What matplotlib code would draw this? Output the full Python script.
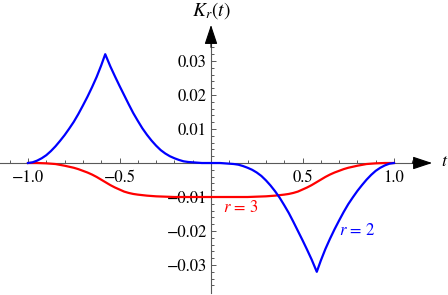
import numpy as np
import matplotlib
matplotlib.use("Agg")
import matplotlib.pyplot as plt
from matplotlib.ticker import FixedLocator, FuncFormatter

plt.rcParams['font.family'] = ['STIXGeneral', 'Liberation Serif', 'DejaVu Serif']
plt.rcParams['mathtext.fontset'] = 'stix'

# r = 2 curve
t_r2_left = [-1.000, -0.975, -0.950, -0.925, -0.900, -0.875, -0.850, -0.825, -0.800, -0.775,
             -0.750, -0.725, -0.700, -0.675, -0.650, -0.625, -0.600, -0.578,
             -0.550, -0.525, -0.500, -0.475, -0.450, -0.425, -0.400, -0.375, -0.350, -0.325,
             -0.300, -0.275, -0.250, -0.225, -0.200, -0.175, -0.150, -0.125, -0.100, -0.075,
             -0.050, 0.000]
k_r2_left = [0.0000, 0.0002, 0.0007, 0.0014, 0.0023, 0.0035, 0.0049, 0.0065, 0.0082, 0.0101,
             0.0121, 0.0144, 0.0169, 0.0195, 0.0223, 0.0253, 0.0287, 0.0320,
             0.0284, 0.0255, 0.0227, 0.0200, 0.0173, 0.0147, 0.0124, 0.0102, 0.0083, 0.0066,
             0.0051, 0.0038, 0.0028, 0.0020, 0.0014, 0.0009, 0.0005, 0.0003, 0.0002, 0.0001,
             0.0000, 0.0000]
t_r2_right = [0.050, 0.075, 0.100, 0.125, 0.150, 0.175, 0.200, 0.225, 0.250, 0.275,
              0.300, 0.325, 0.350, 0.375, 0.400, 0.425, 0.450, 0.475, 0.500, 0.525,
              0.550, 0.578, 0.600, 0.625, 0.650, 0.675, 0.700, 0.725, 0.750, 0.775,
              0.800, 0.825, 0.850, 0.875, 0.900, 0.925, 0.950, 0.975, 1.000]
k_r2_right = [0.0000, -0.0001, -0.0002, -0.0003, -0.0005, -0.0009, -0.0014, -0.0020, -0.0028, -0.0038,
              -0.0051, -0.0066, -0.0083, -0.0102, -0.0124, -0.0147, -0.0173, -0.0200, -0.0227, -0.0255,
              -0.0284, -0.0320, -0.0287, -0.0253, -0.0223, -0.0195, -0.0169, -0.0144, -0.0121, -0.0101,
              -0.0082, -0.0065, -0.0049, -0.0035, -0.0023, -0.0014, -0.0007, -0.0002, 0.0000]

# r = 3 curve
t_r3_left = [-1.000, -0.950, -0.900, -0.850, -0.800, -0.775, -0.750, -0.725, -0.700, -0.675,
             -0.650, -0.625, -0.600, -0.575, -0.550, -0.525, -0.500, -0.475, -0.450, -0.425,
             -0.400, -0.350, -0.300, -0.250, -0.200, -0.100, 0.000]
k_r3_left = [0.0000, 0.0000, -0.0001, -0.0003, -0.0008, -0.0011, -0.0014, -0.0018, -0.0023, -0.0028,
             -0.0034, -0.0041, -0.0049, -0.0057, -0.0065, -0.0072, -0.0078, -0.0084, -0.0088, -0.0091,
             -0.0093, -0.0096, -0.0098, -0.0099, -0.0100, -0.0100, -0.0100]
t_r3_right = [0.100, 0.200, 0.250, 0.300, 0.350, 0.400, 0.425, 0.450, 0.475, 0.500,
              0.525, 0.550, 0.575, 0.600, 0.625, 0.650, 0.675, 0.700, 0.725, 0.750,
              0.775, 0.800, 0.850, 0.900, 0.950, 1.000]
k_r3_right = [-0.0100, -0.0100, -0.0099, -0.0098, -0.0096, -0.0093, -0.0091, -0.0088, -0.0084, -0.0078,
              -0.0072, -0.0065, -0.0057, -0.0049, -0.0041, -0.0034, -0.0028, -0.0023, -0.0018, -0.0014,
              -0.0011, -0.0008, -0.0003, -0.0001, 0.0000, 0.0000]

x_ticks = [-1.0, -0.5, 0.5, 1.0]
y_ticks = [-0.03, -0.02, -0.01, 0.01, 0.02, 0.03]

fig = plt.figure(figsize=(4.48, 2.95), dpi=100)
ax = fig.add_axes([0, 0, 1, 1])
ax.patch.set_visible(False)
ax.set_xlim(-1.153, 1.295)
ax.set_ylim(-0.03882, 0.04794)

ax.plot(t_r3_left + t_r3_right, k_r3_left + k_r3_right, color=(1, 0, 0), lw=1.6, zorder=3)
ax.plot(t_r2_left + t_r2_right, k_r2_left + k_r2_right, color=(0, 0, 1), lw=1.6, zorder=4)

# axes through the origin
axis_col = '0.35'
for s in ['top', 'right']:
    ax.spines[s].set_visible(False)
ax.spines['left'].set_position(('data', 0))
ax.spines['bottom'].set_position(('data', 0))
ax.spines['left'].set_bounds(-0.0382, 0.038)
ax.spines['bottom'].set_bounds(-1.153, 1.19)
for s in ['left', 'bottom']:
    ax.spines[s].set_color(axis_col)
    ax.spines[s].set_linewidth(0.8)

def fmt(digits):
    return FuncFormatter(lambda v, p: f'{v:.{digits}f}'.replace('-', '\u2212'))

ax.xaxis.set_major_locator(FixedLocator(x_ticks))
ax.xaxis.set_minor_locator(FixedLocator(np.arange(-1.1, 1.15, 0.1)))
ax.yaxis.set_major_locator(FixedLocator(y_ticks))
ax.yaxis.set_minor_locator(FixedLocator(np.arange(-0.036, 0.0345, 0.002)))
ax.xaxis.set_major_formatter(fmt(1))
ax.yaxis.set_major_formatter(fmt(2))
ax.tick_params(which='both', direction='in', color=axis_col, width=0.7, labelsize=12)
ax.tick_params(which='major', length=3.5)
ax.tick_params(which='minor', length=2)
ax.tick_params(axis='x', pad=5)
ax.tick_params(axis='y', pad=3)

# arrow heads
ax.annotate('', xy=(1.208, 0), xytext=(1.10, 0),
            arrowprops=dict(arrowstyle='-|>,head_length=0.6,head_width=0.2',
                            mutation_scale=20, color='black', lw=0.8, shrinkA=0, shrinkB=0))
ax.annotate('', xy=(0, 0.0406), xytext=(0, 0.034),
            arrowprops=dict(arrowstyle='-|>,head_length=0.6,head_width=0.2',
                            mutation_scale=20, color='black', lw=0.8, shrinkA=0, shrinkB=0))

ax.text(0.003, 0.0447, r'$K_r(t)$', fontsize=14, ha='center', va='center')
ax.text(1.258, 0.0003, r'$t$', fontsize=13, ha='left', va='center')
ax.text(0.164, -0.0132, r'$r\,=\,3$', fontsize=12, color=(1, 0, 0), ha='center', va='center')
ax.text(0.798, -0.0200, r'$r\,=\,2$', fontsize=12, color=(0, 0, 1), ha='center', va='center')

fig.savefig('out.png', dpi=100)
